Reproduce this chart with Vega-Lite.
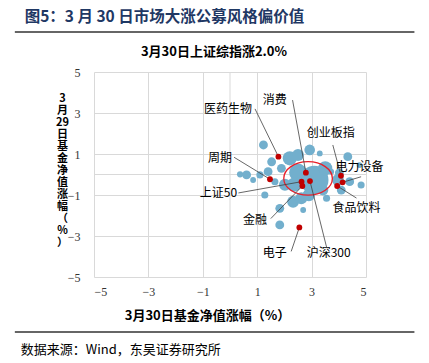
{
  "$schema": "https://vega.github.io/schema/vega-lite/v6.json",
  "width": 272,
  "height": 205,
  "autosize": {"type": "none"},
  "padding": {"left": 94, "top": 72, "right": 63, "bottom": 86},
  "background": "white",
  "config": {
    "view": {"stroke": null},
    "font": "Noto Sans CJK SC",
    "axis": {"labelOverlap": false}
  },
  "datasets": {
    "funds": [
      {"x": 1.23, "y": 1.44, "aum": 15.7},
      {"x": 0.37, "y": 0.01, "aum": 7.7},
      {"x": 0.61, "y": -0.02, "aum": 15.7},
      {"x": 1.10, "y": -0.02, "aum": 10},
      {"x": 0.85, "y": -0.27, "aum": 6.8},
      {"x": 1.53, "y": 0.62, "aum": 15.7},
      {"x": 1.40, "y": 0.14, "aum": 15.7},
      {"x": 1.65, "y": -0.35, "aum": 10},
      {"x": 1.89, "y": 0.30, "aum": 15.7},
      {"x": 2.2, "y": 0.79, "aum": 40.2},
      {"x": 2.5, "y": 0.95, "aum": 28.2},
      {"x": 2.93, "y": 1.2, "aum": 22.6},
      {"x": 3.30, "y": 1.03, "aum": 6.8},
      {"x": 4.33, "y": 0.87, "aum": 15.7},
      {"x": 4.76, "y": 0.46, "aum": 6.8},
      {"x": 3.1, "y": -0.27, "aum": 160.8},
      {"x": 2.5, "y": 0.1, "aum": 62.8},
      {"x": 2.35, "y": -0.5, "aum": 40.2},
      {"x": 3.5, "y": 0.3, "aum": 40.2},
      {"x": 3.97, "y": -0.27, "aum": 28.2},
      {"x": 4.40, "y": -0.35, "aum": 15.7},
      {"x": 4.82, "y": -0.51, "aum": 10},
      {"x": 4.09, "y": -0.76, "aum": 15.7},
      {"x": 3.72, "y": 0.14, "aum": 6.8},
      {"x": 4.02, "y": 0.08, "aum": 15.7},
      {"x": 1.28, "y": -1.0, "aum": 10},
      {"x": 1.83, "y": -1.65, "aum": 15.7},
      {"x": 2.32, "y": -1.33, "aum": 28.2},
      {"x": 2.62, "y": -1.16, "aum": 28.2},
      {"x": 2.69, "y": -1.73, "aum": 6.8},
      {"x": 1.83, "y": -2.46, "aum": 15.7},
      {"x": 3.42, "y": -0.76, "aum": 22.6},
      {"x": 2.02, "y": -0.5, "aum": 28.2},
      {"x": 2.9, "y": -1.0, "aum": 30.8},
      {"x": 3.55, "y": -1.16, "aum": 10}
    ],
    "idx": [
      {"name": "医药生物", "x": 1.78, "y": 0.87, "lx": 0.81, "ly": 3.2, "ex": 0.92, "ey": 3.2, "side": "left"},
      {"name": "消费", "x": 2.79, "y": 0.09, "lx": 2.09, "ly": 3.63, "ex": 2.3, "ey": 3.63, "side": "left"},
      {"name": "创业板指", "x": 4.08, "y": -0.06, "lx": 2.82, "ly": 2.02, "ex": 3.78, "ey": 1.44, "side": "right"},
      {"name": "电力设备", "x": 4.14, "y": -0.38, "lx": 3.88, "ly": 0.37, "ex": 4.82, "ey": -0.11, "side": "right"},
      {"name": "周期", "x": 1.47, "y": -0.23, "lx": 0.07, "ly": 0.8, "ex": 0.15, "ey": 0.84, "side": "left"},
      {"name": "上证50", "x": 2.63, "y": -0.35, "lx": 0.26, "ly": -0.9, "ex": 0.31, "ey": -0.9, "side": "left"},
      {"name": "金融", "x": 2.66, "y": -0.56, "lx": 1.36, "ly": -2.22, "ex": 1.5, "ey": -2.15, "side": "left"},
      {"name": "食品饮料", "x": 3.94, "y": -0.56, "lx": 3.77, "ly": -1.63, "ex": 4.65, "ey": -1.15, "side": "right"},
      {"name": "电子", "x": 2.55, "y": -2.58, "lx": 2.09, "ly": -3.83, "ex": 2.25, "ey": -3.75, "side": "left"},
      {"name": "沪深300", "x": 2.94, "y": -0.32, "lx": 2.82, "ly": -3.83, "ex": 3.55, "ey": -3.54, "side": "right"}
    ]
  },
  "layer": [
    {
      "data": {"values": [{"x": 0, "x2": 0, "y": -5, "y2": 5}, {"x": -5, "x2": 5, "y": 0, "y2": 0}]},
      "mark": {"type": "rule", "color": "#D9D9D9", "strokeWidth": 1},
      "encoding": {"x": {"field": "x", "type": "quantitative"}, "x2": {"field": "x2"}, "y": {"field": "y", "type": "quantitative"}, "y2": {"field": "y2"}}
    },
    {
      "data": {"name": "funds"},
      "mark": {"type": "point", "filled": true, "opacity": 1, "color": "#72AFCD", "strokeWidth": 0},
      "encoding": {
        "x": {"field": "x", "type": "quantitative",
          "scale": {"domain": [-5, 5], "nice": false, "zero": false},
          "axis": {"values": [-5, -3, -1, 1, 3, 5], "tickCount": 30, "format": "d",
            "domain": false, "ticks": false, "gridColor": "#D9D9D9", "gridWidth": 1, "labelOverlap": false,
            "labelFont": "Liberation Serif", "labelFontSize": 12, "labelColor": "#333333", "labelPadding": 9,
            "title": "3月30日基金净值涨幅（%）", "titleFontSize": 13, "titleFontWeight": "bold", "titleColor": "#000000",
            "titleX": 113, "titleY": 38, "titleBaseline": "middle", "titleAlign": "center"}},
        "y": {"field": "y", "type": "quantitative",
          "scale": {"domain": [-5, 5], "nice": false, "zero": false},
          "axis": {"values": [-5, -3, -1, 1, 3, 5], "tickCount": 30, "format": "d",
            "domain": false, "ticks": false, "gridColor": "#D9D9D9", "gridWidth": 1, "labelOverlap": false,
            "labelFont": "Liberation Serif", "labelFontSize": 12, "labelColor": "#333333", "labelPadding": 14,
            "title": ["3", "月", "29", "日", "基", "金", "净", "值", "涨", "幅", "（", "%", "）"],
            "titleAngle": 0, "titleFontSize": 11, "titleFontWeight": "bold", "titleColor": "#000000",
            "titleLineHeight": 12, "titleX": -32, "titleY": 26, "titleBaseline": "middle", "titleAlign": "center"}},
        "size": {"field": "aum", "type": "quantitative", "scale": {"domain": [0, 200], "range": [0, 1000]}, "legend": null}
      }
    },
    {
      "data": {"values": [{"x": 2.87, "y": -0.19}]},
      "mark": {"type": "point", "filled": false, "shape": "M-1,0A1,0.687,0,1,1,1,0A1,0.687,0,1,1,-1,0Z", "size": 2362, "stroke": "#E8202A", "strokeWidth": 1.3, "opacity": 1},
      "encoding": {"x": {"field": "x", "type": "quantitative"}, "y": {"field": "y", "type": "quantitative"}}
    },
    {
      "data": {"name": "idx"},
      "mark": {"type": "rule", "color": "#404040", "strokeWidth": 0.8},
      "encoding": {
        "x": {"field": "x", "type": "quantitative"}, "y": {"field": "y", "type": "quantitative"},
        "x2": {"field": "ex"}, "y2": {"field": "ey"}
      }
    },
    {
      "data": {"name": "idx"},
      "mark": {"type": "point", "filled": true, "opacity": 1, "color": "#C00000", "size": 34},
      "encoding": {"x": {"field": "x", "type": "quantitative"}, "y": {"field": "y", "type": "quantitative"}}
    },
    {
      "data": {"name": "idx"},
      "transform": [{"filter": "datum.side == 'left'"}],
      "mark": {"type": "text", "align": "right", "baseline": "middle", "fontSize": 12, "color": "#000000"},
      "encoding": {"x": {"field": "lx", "type": "quantitative"}, "y": {"field": "ly", "type": "quantitative"}, "text": {"field": "name"}}
    },
    {
      "data": {"name": "idx"},
      "transform": [{"filter": "datum.side == 'right'"}],
      "mark": {"type": "text", "align": "left", "baseline": "middle", "fontSize": 12, "color": "#000000"},
      "encoding": {"x": {"field": "lx", "type": "quantitative"}, "y": {"field": "ly", "type": "quantitative"}, "text": {"field": "name"}}
    },
    {
      "data": {"values": [{"x": -7.91, "x2": 6.78, "y": 6.95}, {"x": -7.91, "x2": 6.78, "y": -7.68}]},
      "mark": {"type": "rule", "color": "#333333", "strokeWidth": 1.6},
      "encoding": {"x": {"field": "x", "type": "quantitative"}, "x2": {"field": "x2"}, "y": {"field": "y", "type": "quantitative"}}
    },
    {
      "data": {"values": [{"x": -7.55, "y": 7.68, "t": "图5：3 月 30 日市场大涨公募风格偏价值"}]},
      "mark": {"type": "text", "align": "left", "baseline": "middle", "fontSize": 15.5, "fontWeight": "bold", "color": "#1F3864"},
      "encoding": {"x": {"field": "x", "type": "quantitative"}, "y": {"field": "y", "type": "quantitative"}, "text": {"field": "t"}}
    },
    {
      "data": {"values": [{"x": -0.59, "y": 5.98, "t": "3月30日上证综指涨2.0%"}]},
      "mark": {"type": "text", "align": "center", "baseline": "middle", "fontSize": 13, "fontWeight": "bold", "color": "#000000"},
      "encoding": {"x": {"field": "x", "type": "quantitative"}, "y": {"field": "y", "type": "quantitative"}, "text": {"field": "t"}}
    },
    {
      "data": {"values": [{"x": -7.69, "y": -8.56, "t": "数据来源：Wind，东吴证券研究所"}]},
      "mark": {"type": "text", "align": "left", "baseline": "middle", "fontSize": 13, "color": "#000000"},
      "encoding": {"x": {"field": "x", "type": "quantitative"}, "y": {"field": "y", "type": "quantitative"}, "text": {"field": "t"}}
    }
  ]
}
